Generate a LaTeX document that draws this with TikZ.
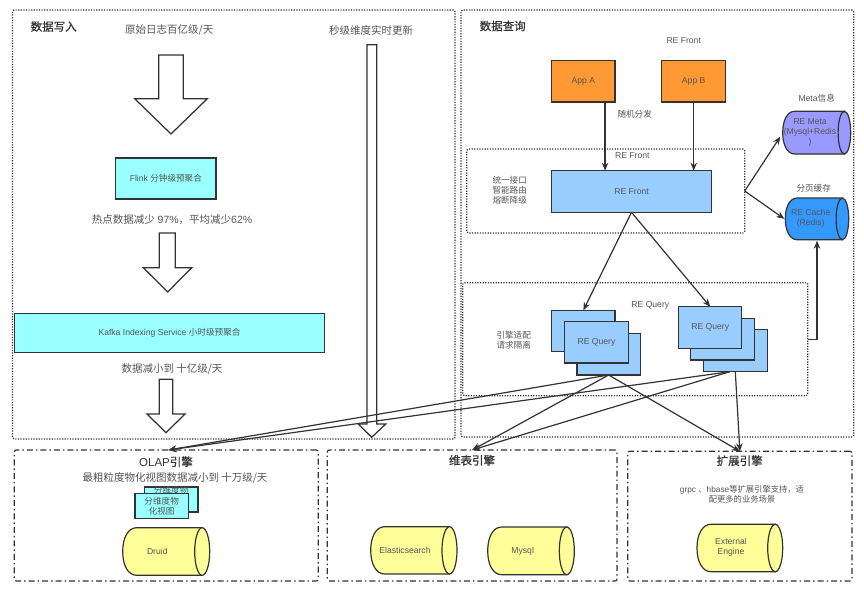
\documentclass[tikz,border=0pt]{standalone}
\usepackage{fontspec}
\setmainfont{Liberation Sans}
\newfontfamily\cjf{Noto Sans CJK SC}
\newfontfamily\cjm[FakeBold=0.6]{Noto Sans CJK SC}
\newcommand\cn[1]{{\cjf #1}}
\newcommand\cnm[1]{{\cjm #1}}
\usetikzlibrary{arrows.meta,calc}
\definecolor{txt}{HTML}{555555}
\definecolor{ln}{HTML}{333333}
\definecolor{cyanb}{HTML}{99FFFF}
\definecolor{blueb}{HTML}{99CCFF}
\definecolor{orangeb}{HTML}{FF9933}
\definecolor{yellowc}{HTML}{FFFF99}
\definecolor{purplec}{HTML}{9999FF}
\definecolor{bluec}{HTML}{3399FF}
\tikzset{
  lbl/.style={text=txt,inner sep=0pt,align=center,font=\fontsize{10.5}{12}\selectfont},
  small/.style={text=txt,inner sep=0pt,align=center,font=\fontsize{8.6}{10}\selectfont},
  head/.style={text=ln,inner sep=0pt,align=center,font=\fontsize{11.5}{13}\selectfont},
  boxs/.style={draw=ln,line width=1.25pt,text=txt,inner sep=0pt,outer sep=0pt,align=center,font=\fontsize{8.6}{10}\selectfont},
  dotbox/.style={draw=ln,line width=1.1pt,dash pattern=on 1.2pt off 1.4pt,inner sep=0pt,outer sep=0pt,rounded corners=1.5pt},
  dashbox/.style={draw=ln,line width=1.2pt,dash pattern=on 6pt off 3pt on 1.5pt off 3pt,inner sep=0pt,outer sep=0pt,rounded corners=2pt},
  blockarr/.style={draw=ln,line width=1.25pt,fill=white,line join=miter},
  conn/.style={draw=ln,line width=1.2pt,-{Stealth[length=8pt,width=6.5pt]}},
  cylb/.style={draw=ln,line width=1.2pt},
}
% name x1 y1 x2 y2 style text
\newcommand\bx[7]{%
  \pgfmathsetmacro\bxw{#4-#2}\pgfmathsetmacro\bxh{#5-#3}%
  \node[#6,minimum width=\bxw pt,minimum height=\bxh pt] (#1) at ({(#2+#4)/2},{(#3+#5)/2}) {#7};}
% name x1 y1 x2 y2 leftrad rightrad fill
\newcommand\cyl[8]{%
  \pgfmathsetmacro\cm{(#3+#5)/2}\pgfmathsetmacro\ry{(#5-#3)/2}%
  \pgfmathsetmacro\La{#2+#6}\pgfmathsetmacro\Ra{#4-#7}%
  \pgfmathsetmacro\Lc{#2+#6*.4}\pgfmathsetmacro\Ua{\cm-\ry*.6}\pgfmathsetmacro\Ub{\cm+\ry*.6}%
  \draw[cylb,fill=#8] (\La,#3) -- (\Ra,#3) -- (\Ra,#5) -- (\La,#5)
     .. controls (\Lc,#5) and (#2,\Ub) .. (#2,\cm)
     .. controls (#2,\Ua) and (\Lc,#3) .. (\La,#3) -- cycle;
  \draw[cylb,fill=#8] (\Ra,\cm) ellipse [x radius=#7,y radius=\ry];
  \pgfmathsetmacro\bxw{#4-#2}\pgfmathsetmacro\bxh{#5-#3}%
  \node[inner sep=0pt,outer sep=0pt,minimum width=\bxw pt,minimum height=\bxh pt] (#1) at ({(#2+#4)/2},\cm) {};}
% name shaftL shaftR top neck headL headR tipx tipy
\newcommand\blk[9]{%
  \draw[blockarr] (#2,#4) -- (#3,#4) -- (#3,#5) -- (#7,#5) -- (#8,#9) -- (#6,#5) -- (#2,#5) -- cycle;
  \coordinate (#1) at (#8,#9);}
\begin{document}
\begin{tikzpicture}[x=1pt,y=-1pt]
\useasboundingbox (0,0) rectangle (864,591);
\fill[white] (0,0) rectangle (864,591);
% outer groups
\bx{writebox}{12.5}{10}{455}{439}{dotbox}{}
\bx{querybox}{461}{10}{853.7}{437}{dotbox}{}
\bx{frontbox}{466.7}{149}{744.7}{233}{dotbox}{}
\bx{qbox}{462.7}{282.7}{807.7}{395.7}{dotbox}{}
\bx{olap}{14.3}{450}{318.3}{581}{dashbox}{}
\bx{dimen}{327.3}{450}{617}{581}{dashbox}{}
\bx{extn}{627.7}{451.3}{852}{581}{dashbox}{}
% left column
\node[head] (t1) at (53.7,26.5) {\cnm{数据写入}};
\node[lbl] (t2) at (169.3,30) {\cn{原始日志百亿级/天}};
\node[lbl] (t3) at (371,30.5) {\cn{秒级维度实时更新}};
\blk{a1}{158.7}{183.3}{55}{98.7}{134.7}{207.3}{171}{134}
\bx{flink}{115.7}{158}{216}{199}{boxs,fill=cyanb}{Flink \cn{分钟级预聚合}}
\node[lbl] (t4) at (172,220) {\cn{热点数据减少} 97\%\cn{，平均减少}62\%};
\blk{a2}{159.3}{175.3}{233}{267.7}{143.3}{191.7}{167.7}{292}
\bx{kafka}{14.3}{313.7}{324.7}{352.7}{boxs,fill=cyanb}{Kafka Indexing Service \cn{小时级预聚合}}
\node[lbl] (t5) at (172,369) {\cn{数据减小到 十亿级/天}};
\blk{a3}{159.3}{172.7}{379.3}{414}{147}{185}{166}{432.7}
\blk{a4}{367}{376.7}{44.7}{424}{358.3}{385.7}{371.7}{437.3}
% engines
\node[head] (t6) at (166,461.7) {OLAP\cnm{引擎}};
\node[lbl] (t7) at (175,478) {\cn{最粗粒度物化视图数据减小到 十万级/天}};
\bx{viewb}{144.3}{487}{198}{512}{boxs,fill=cyanb}{\raisebox{6pt}[0pt][0pt]{\cn{分维度物}}}
\bx{viewf}{135}{493.3}{188.3}{518.3}{boxs,fill=cyanb}{\cn{分维度物}\\\cn{化视图}}
\cyl{druid}{122.7}{527.7}{209.7}{575.3}{14}{7.5}{yellowc}
\node[small] (druidt) at (157.3,551.3) {Druid};
\node[head] (t8) at (472,460.3) {\cnm{维表引擎}};
\cyl{es}{370.7}{526.7}{457}{574}{14}{7.5}{yellowc}
\node[small] (est) at (405,550) {Elasticsearch};
\cyl{mysql}{487.7}{527}{574.3}{574.7}{14}{7.5}{yellowc}
\node[small] (mysqlt) at (522.7,551) {Mysql};
\node[head] (t9) at (739.7,460.7) {\cnm{扩展引擎}};
\node[small,font=\fontsize{8.3}{10}\selectfont] (t10) at (742,494) {grpc \cn{、}hbase\cn{等扩展引擎支持，适}\\\cn{配更多的业务场景}};
\cyl{extc}{697}{524.3}{782.7}{571.7}{14}{7.5}{yellowc}
\node[small] (extt) at (731,547.7) {External\\Engine};
% query side
\node[head] (t11) at (502.7,26) {\cnm{数据查询}};
\node[small] (t12) at (683.7,40.7) {RE Front};
\bx{appa}{551.7}{60.3}{615}{102}{boxs,fill=orangeb}{App A}
\bx{appb}{661.7}{60.3}{725.7}{102}{boxs,fill=orangeb}{App B}
\node[small] (t13) at (634.7,114) {\cn{随机分发}};
\node[small] (t14) at (632.3,155.3) {RE Front};
\node[small] (t15) at (509.7,190.5) {\cn{统一接口}\\\cn{智能路由}\\\cn{熔断降级}};
\bx{front}{551.7}{170.7}{711.3}{212.3}{boxs,fill=blueb}{RE Front}
\node[small] (t16) at (816.7,98) {Meta\cn{信息}};
\cyl{meta}{782.7}{111.3}{850.7}{154}{12}{6.3}{purplec}
\node[small] (metat) at (810,132.3) {RE Meta\\(Mysql+Redis\\)};
\node[small] (t17) at (813.7,188) {\cn{分页缓存}};
\cyl{cache}{785.3}{198}{848.7}{239.7}{12}{6.3}{bluec}
\node[small] (cachet) at (810.7,218.7) {RE Cache\\(Redis)};
\node[small] (t18) at (650.3,305.7) {RE Query};
\node[small] (t19) at (513.7,340.7) {\cn{引擎适配}\\\cn{请求隔离}};
\bx{qa}{551.7}{310.3}{615}{351.7}{boxs,fill=blueb}{}
\bx{qc}{577}{333.3}{640.3}{375}{boxs,fill=blueb}{}
\bx{qb}{564.7}{321.7}{628.3}{363}{boxs,fill=blueb}{RE Query}
\bx{rc}{703.3}{329.7}{767.3}{371.7}{boxs,fill=blueb}{}
\bx{rb}{690.7}{318.3}{754.7}{360}{boxs,fill=blueb}{}
\bx{ra}{678.7}{306.7}{741.7}{348.3}{boxs,fill=blueb}{RE Query}
% connectors
\draw[conn] ([xshift=21.7pt]appa.south) -- ([xshift=21.7pt]appa.south |- front.north);
\draw[conn] (appb.south) -- (appb.south |- front.north);
\draw[conn] (frontbox.east) -- ([shift={(-2.4pt,-4pt)}]meta.west);
\draw[conn] (frontbox.east) -- ([xshift=-1pt]cache.west);
\draw[conn] (qbox.east) -| ([yshift=-1pt]cache.south);
\draw[conn] (front.south) -- (qa.north);
\draw[conn] (front.south) -- (ra.north);
\coordinate (rout) at ([xshift=-5.6pt]rc.south);
\coordinate (olapin) at ([xshift=2pt]olap.north);
\draw[conn] (qc.south) -- (olapin);
\draw[conn] (qc.south) -- (dimen.north);
\draw[conn] (qc.south) -- (extn.north);
\draw[conn] (rout) -- (olapin);
\draw[conn] (rout) -- (dimen.north);
\draw[conn] (rc.south) -- (extn.north);
\end{tikzpicture}
\end{document}
